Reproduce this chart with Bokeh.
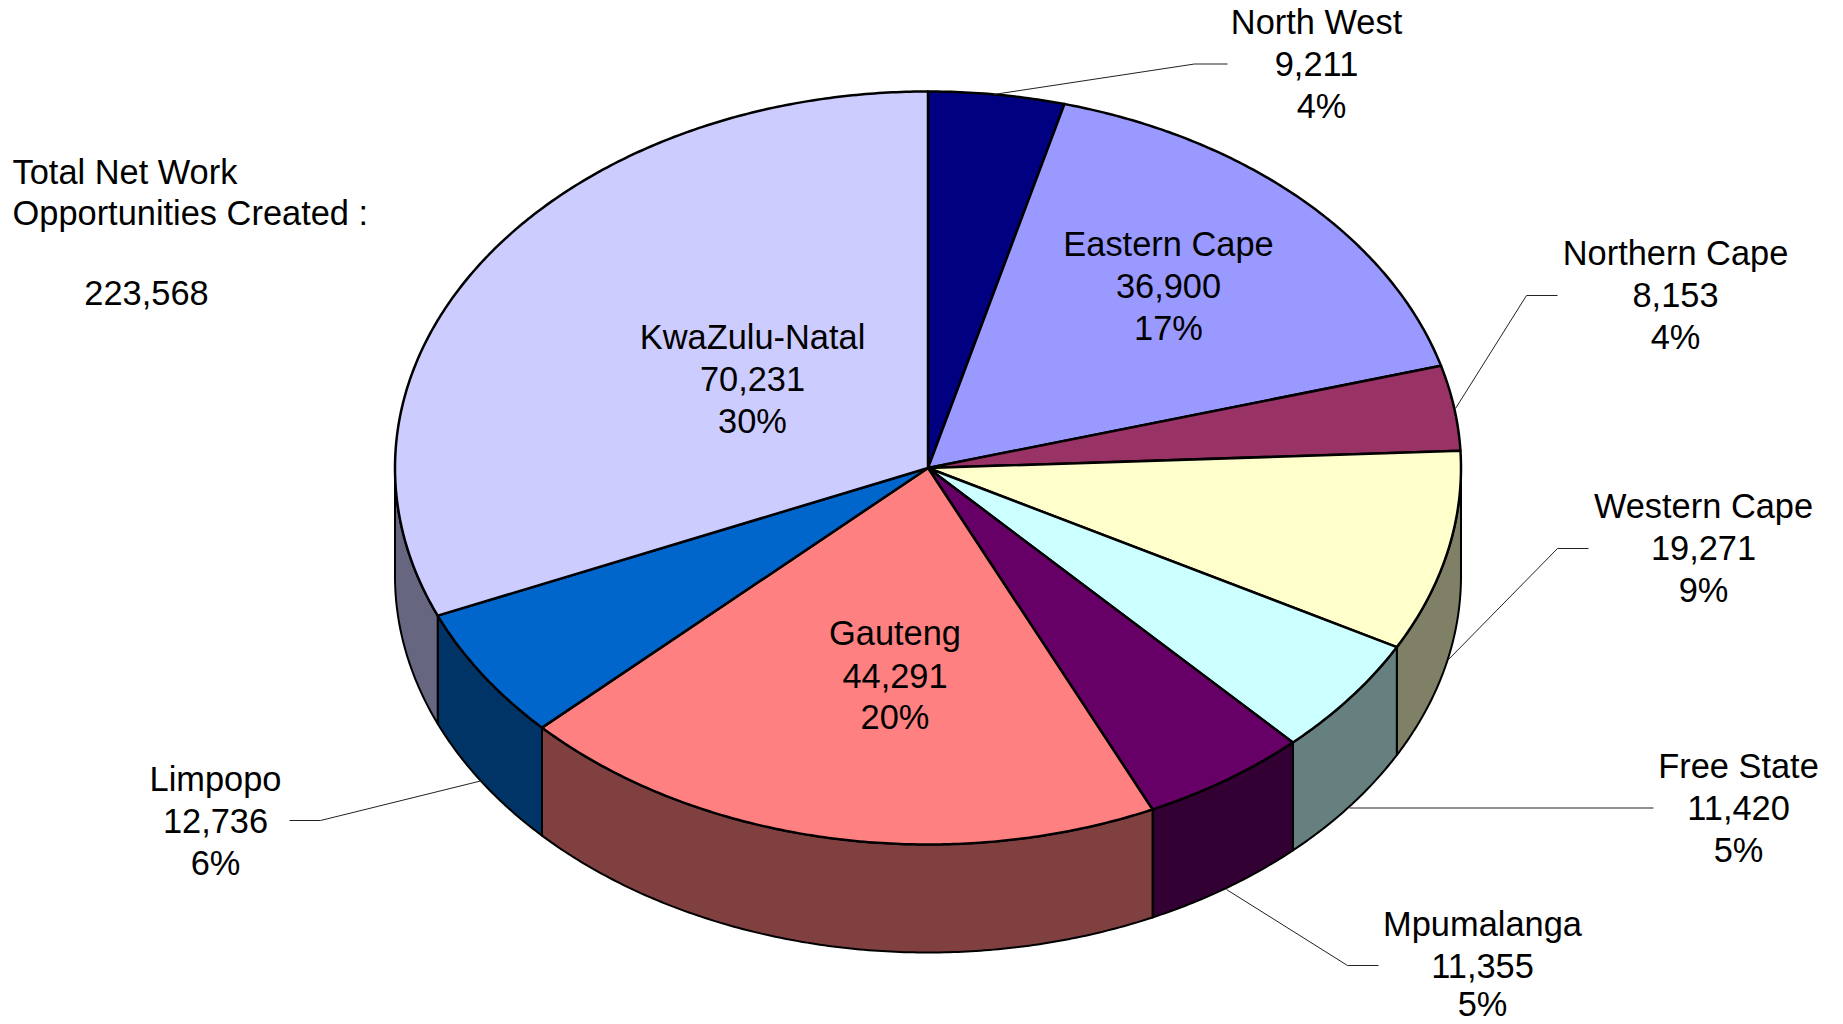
from bokeh.plotting import figure
from bokeh.models import ColumnDataSource, Range1d
from bokeh.core.properties import value
from bokeh.embed import file_html
from bokeh.resources import INLINE
import numpy as np

regions = ["North West", "Eastern Cape", "Northern Cape", "Western Cape", "Free State",
           "Mpumalanga", "Gauteng", "Limpopo", "KwaZulu-Natal"]
jobs = [9211, 36900, 8153, 19271, 11420, 11355, 44291, 12736, 70231]
percents = [4, 17, 4, 9, 5, 5, 20, 6, 30]
top_colors = ["#000080", "#9999FF", "#993366", "#FFFFCC", "#CCFFFF",
              "#660066", "#FF8080", "#0066CC", "#CCCCFF"]
side_colors = ["#000040", "#4C4C80", "#4C1933", "#808066", "#668080",
               "#330033", "#804040", "#003366", "#666680"]
total_lines = ["Total Net Work", "Opportunities Created :", "223,568"]

# Layout (page pixels)
W, H = 1843, 1024
CX, CY, RX, RY, DEPTH = 927.5, 467.5, 533.0, 376.5, 108.0
FONT = "Liberation Sans"
SIZE = "34.4px"
label_lines = {   # three line centres for each region: (x, y) per line
    "North West": [(1316, 21), (1316, 63.5), (1321, 105)],
    "Eastern Cape": [(1168, 243.5), (1168, 285.5), (1168, 327)],
    "Northern Cape": [(1675, 252.5), (1675, 294.5), (1675, 336)],
    "Western Cape": [(1703, 505.5), (1703, 547.5), (1703, 589.5)],
    "Free State": [(1738, 765.5), (1738, 807.5), (1738, 849)],
    "Mpumalanga": [(1482, 923), (1482, 965), (1482, 1003.5)],
    "Gauteng": [(894.5, 632.5), (894.5, 675), (894.5, 716.5)],
    "Limpopo": [(215, 778), (215, 820), (215, 862)],
    "KwaZulu-Natal": [(752, 336.5), (752, 378), (752, 420)],
}
leaders = [
    ([993, 1194, 1227], [94, 63.5, 63.5]),
    ([1455, 1526, 1557], [408, 295, 295]),
    ([1448, 1557, 1588], [659, 548, 548]),
    ([1349, 1653], [807.5, 807.5]),
    ([1226, 1347, 1378], [889, 965, 965]),
    ([480, 320, 289], [780.5, 820, 820]),
]
total_pos = [(12, 171), (12, 212), (146, 292)]

p = figure(width=W, height=H, x_range=Range1d(0, W), y_range=Range1d(H, 0),
           output_backend="svg", toolbar_location=None, min_border=0)
p.axis.visible = False
p.grid.visible = False
p.outline_line_color = None
p.background_fill_color = "white"

edges = np.concatenate([[0], np.cumsum(jobs)]) / np.sum(jobs) * 2 * np.pi


def rim(a0, a1, dy=0.0):
    t = np.linspace(a0, a1, max(3, int((a1 - a0) * 120)))
    return CX + RX * np.sin(t), CY - RY * np.cos(t) + dy


# Side walls: only the front half of the rim (clockwise angles 90 to 270 degrees)
sx, sy, sc = [], [], []
lo, hi = np.pi / 2, 3 * np.pi / 2
for i in range(len(jobs)):
    a0, a1 = max(edges[i], lo), min(edges[i + 1], hi)
    if a1 <= a0:
        continue
    xt, yt = rim(a0, a1)
    xb, yb = rim(a0, a1, DEPTH)
    sx.append(np.concatenate([xt, xb[::-1]]).tolist())
    sy.append(np.concatenate([yt, yb[::-1]]).tolist())
    sc.append(side_colors[i])
p.patches("x", "y", source=ColumnDataSource(dict(x=sx, y=sy, c=sc)),
          fill_color="c", line_color="black", line_width=2, line_join="round")

# Top face
tx, ty = [], []
for i in range(len(jobs)):
    x, y = rim(edges[i], edges[i + 1])
    tx.append([CX] + x.tolist())
    ty.append([CY] + y.tolist())
p.patches("x", "y", source=ColumnDataSource(dict(x=tx, y=ty, c=top_colors)),
          fill_color="c", line_color="black", line_width=2.5, line_join="round")

# Leader lines
p.multi_line([l[0] for l in leaders], [l[1] for l in leaders], line_color="#222222", line_width=1)

# Labels
lx, ly, lt = [], [], []
for name, v, pc in zip(regions, jobs, percents):
    for (x, y), s in zip(label_lines[name], [name, f"{v:,}", f"{pc}%"]):
        lx.append(x); ly.append(y); lt.append(s)
p.text(lx, ly, text=lt, text_font=value(FONT), text_font_size=value(SIZE), text_color="black",
       text_align="center", text_baseline="middle")

p.text([q[0] for q in total_pos[:2]], [q[1] for q in total_pos[:2]], text=total_lines[:2],
       text_font=value(FONT), text_font_size=value(SIZE), text_color="black",
       text_align="left", text_baseline="middle")
p.text([total_pos[2][0]], [total_pos[2][1]], text=[total_lines[2]],
       text_font=value(FONT), text_font_size=value(SIZE), text_color="black",
       text_align="center", text_baseline="middle")

open("out.html", "w").write(file_html(p, INLINE))
